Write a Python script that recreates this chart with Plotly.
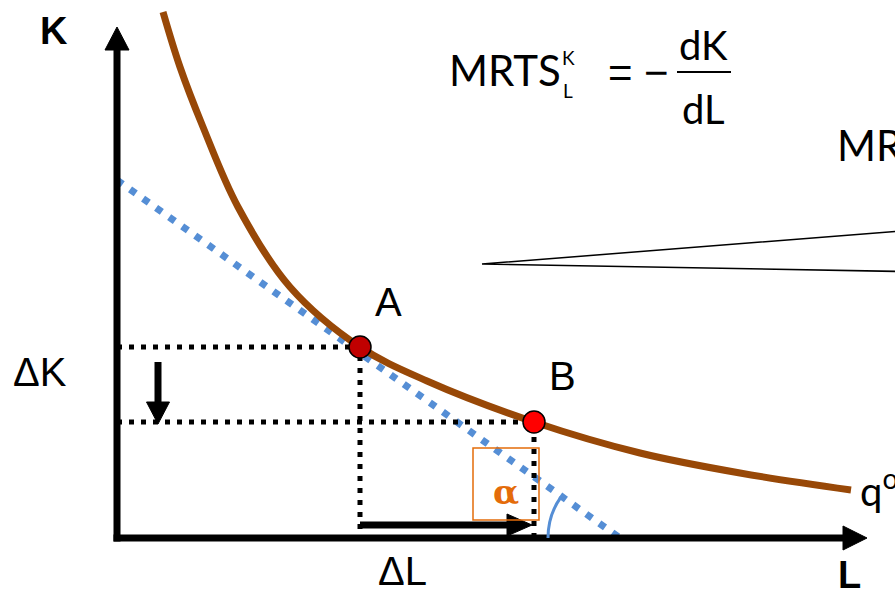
import plotly.graph_objects as go

# ---- data (units: L horizontal, K vertical) ----
iso_L = [0.92, 1.26, 1.72, 2.42, 3.46, 4.86, 6.20, 8.34, 10.46, 12.46, 14.68]
iso_K = [10.52, 9.42, 8.22, 6.62, 5.02, 3.82, 3.14, 2.32, 1.70, 1.30, 0.96]

point_labels = ["A", "B"]
point_L = [4.86, 8.34]
point_K = [3.82, 2.32]
point_colors = ["#C00000", "#FF0000"]

tangent_L = [0.0, 10.06]
tangent_K = [7.16, 0.0]

# ---- layout constants ----
X_RANGE = [-2.34, 15.56]
Y_RANGE = [-1.02, 10.76]
K_AXIS_TOP = 9.76
K_AXIS_TIP = 10.22
L_AXIS_END = 14.52
L_AXIS_TIP = 15.0
HEAD = 0.24

BROWN = "#984807"
BLUE = "#558ED5"
ORANGE = "#E46C0A"

fig = go.Figure()

# tangent line (dotted blue)
fig.add_trace(go.Scatter(x=tangent_L, y=tangent_K, mode="lines",
                         line=dict(color=BLUE, width=7, dash="7px,9px"),
                         hoverinfo="skip", showlegend=False))

# guide dotted lines
for L, K in zip(point_L, point_K):
    fig.add_trace(go.Scatter(x=[0, L, L], y=[K, K, 0], mode="lines",
                             line=dict(color="black", width=5, dash="5px,7px"),
                             hoverinfo="skip", showlegend=False))

# isoquant
fig.add_trace(go.Scatter(x=iso_L, y=iso_K, mode="lines",
                         line=dict(color=BROWN, width=7, shape="spline", smoothing=1.0),
                         hoverinfo="skip", showlegend=False))

shapes = []
# axes shafts
shapes.append(dict(type="line", xref="x", yref="y", x0=0, y0=-0.07, x1=0, y1=K_AXIS_TOP,
                   line=dict(color="black", width=7)))
shapes.append(dict(type="line", xref="x", yref="y", x0=-0.07, y0=0, x1=L_AXIS_END, y1=0,
                   line=dict(color="black", width=7)))
# axes heads
shapes.append(dict(type="path", xref="x", yref="y",
                   path=f"M {-HEAD},{K_AXIS_TOP} L {HEAD},{K_AXIS_TOP} L 0,{K_AXIS_TIP} Z",
                   fillcolor="black", line=dict(color="black", width=1)))
shapes.append(dict(type="path", xref="x", yref="y",
                   path=f"M {L_AXIS_END},{-HEAD} L {L_AXIS_END},{HEAD} L {L_AXIS_TIP},0 Z",
                   fillcolor="black", line=dict(color="black", width=1)))

# Delta K arrow
dk_x = 0.82
dk_top = point_K[0] - 0.30
dk_tip = point_K[1] - 0.04
dk_base = dk_tip + 0.44
shapes.append(dict(type="line", xref="x", yref="y", x0=dk_x, y0=dk_top, x1=dk_x, y1=dk_base,
                   line=dict(color="black", width=7)))
shapes.append(dict(type="path", xref="x", yref="y",
                   path=f"M {dk_x-0.23},{dk_base} L {dk_x+0.23},{dk_base} L {dk_x},{dk_tip} Z",
                   fillcolor="black", line=dict(color="black", width=1)))

# Delta L arrow
dl_y = 0.26
dl_start = point_L[0]
dl_tip = point_L[1] - 0.04
dl_base = dl_tip - 0.50
shapes.append(dict(type="line", xref="x", yref="y", x0=dl_start, y0=dl_y, x1=dl_base, y1=dl_y,
                   line=dict(color="black", width=7)))
shapes.append(dict(type="path", xref="x", yref="y",
                   path=f"M {dl_base},{dl_y-0.22} L {dl_base},{dl_y+0.22} L {dl_tip},{dl_y} Z",
                   fillcolor="black", line=dict(color="black", width=1)))

# orange box
shapes.append(dict(type="rect", xref="x", yref="y", x0=7.12, x1=8.44, y0=0.36, y1=1.80,
                   line=dict(color=ORANGE, width=1.5)))
# angle arc
shapes.append(dict(type="path", xref="x", yref="y",
                   path="M 8.62,0 Q 8.62,0.46 8.88,0.82",
                   line=dict(color=BLUE, width=3)))
# callout triangle lines
shapes.append(dict(type="path", xref="x", yref="y",
                   path="M 15.7,6.14 L 7.30,5.48 L 15.7,5.33",
                   line=dict(color="black", width=1.5)))
# fraction bar
shapes.append(dict(type="line", xref="x", yref="y", x0=11.20, x1=12.28, y0=9.32, y1=9.32,
                   line=dict(color="black", width=2)))

# points
fig.add_trace(go.Scatter(x=point_L, y=point_K, mode="markers",
                         marker=dict(size=22, color=point_colors, line=dict(color="black", width=1.5)),
                         hoverinfo="skip", showlegend=False))

ARIAL = "Liberation Sans, Arial, sans-serif"
CAL = "Lato, Carlito, sans-serif"
ann = []
def text(x, y, t, size, family=ARIAL, color="black", xanchor="center", bold=False):
    ann.append(dict(x=x, y=y, xref="x", yref="y", text=(f"<b>{t}</b>" if bold else t),
                    showarrow=False, xanchor=xanchor, yanchor="middle",
                    font=dict(size=size, family=family, color=color)))

text(-1.26, 10.14, "K", 38, bold=True)
text(14.64, -0.74, "L", 38, bold=True)
text(-1.54, 3.32, "ΔK", 40)
text(5.70, -0.66, "ΔL", 40)
text(point_L[0] + 0.56, point_K[0] + 0.90, point_labels[0], 40)
text(point_L[1] + 0.56, point_K[1] + 0.92, point_labels[1], 40)
text(7.78, 0.92, "α", 34, family="DejaVu Serif, serif", color=ORANGE, bold=True)

text(7.76, 9.36, "MRTS", 42, family=CAL)
text(9.02, 9.62, "K", 19, family=CAL)
text(9.02, 8.96, "L", 19, family=CAL)
text(10.06, 9.32, "=", 42, family=ARIAL)
text(10.78, 9.32, "−", 42, family=ARIAL)
text(11.72, 9.86, "dK", 40, family=CAL)
text(11.72, 8.58, "dL", 40, family=CAL)
text(14.36, 7.86, "MRTS", 42, family=CAL, xanchor="left")
text(14.82, 1.0, "q<sup>o</sup>", 40, family=CAL, xanchor="left")

fig.update_layout(
    width=895, height=589, autosize=False,
    margin=dict(l=0, r=0, t=0, b=0, pad=0),
    paper_bgcolor="white", plot_bgcolor="white",
    xaxis=dict(range=X_RANGE, visible=False, fixedrange=True),
    yaxis=dict(range=Y_RANGE, visible=False, fixedrange=True),
    shapes=shapes, annotations=ann, showlegend=False,
)

fig.write_html("out.html", config={"displayModeBar": False},
               post_script="document.body.style.margin='0';document.body.style.overflow='hidden';")
